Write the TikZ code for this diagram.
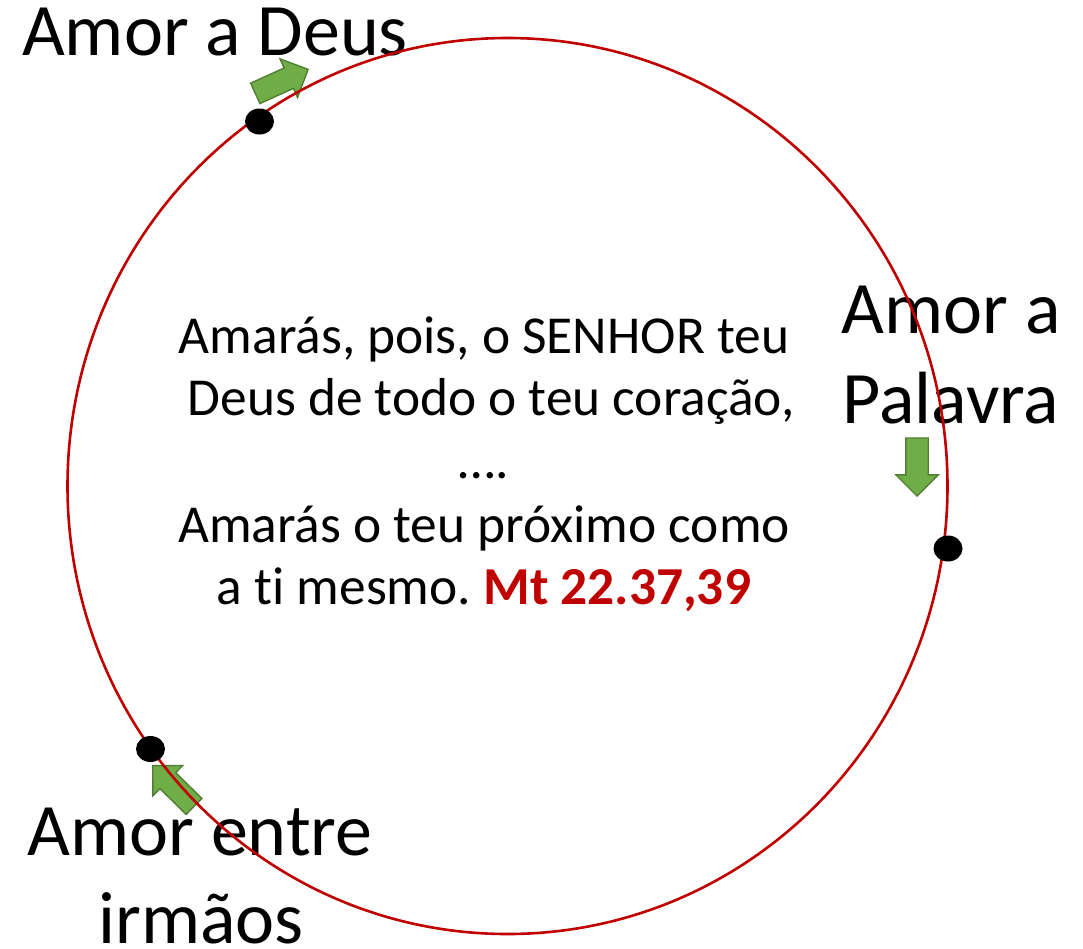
\documentclass[tikz,border=0pt]{standalone}
\usepackage{fontspec}
\setmainfont{Carlito}[Ligatures=NoCommon]
\usepackage{xcolor}
\usetikzlibrary{shapes.geometric, shapes.arrows}

\definecolor{ringred}{HTML}{C00000}
\definecolor{arrowfill}{HTML}{70AD47}
\definecolor{arrowline}{HTML}{507E32}

\tikzset{
  bigword/.style={font=\fontsize{74}{90}\selectfont, inner sep=0pt, anchor=base},
  verseline/.style={font=\fontsize{53.4}{63}\selectfont, inner sep=0pt, anchor=base},
  pointdot/.style={ellipse, fill=black, inner sep=0pt, minimum width=29pt, minimum height=26pt},
  greenarrow/.style={single arrow, draw=arrowline, fill=arrowfill, line width=1.4pt,
    inner sep=10.5pt, minimum height=58pt, single arrow head extend=10pt, anchor=tip},
}

\begin{document}
\begin{tikzpicture}[x=1pt, y=-1pt]
			\useasboundingbox (0,0) rectangle (1083,948);
			
			\node[greenarrow, rotate=24.4] (deusarrow) at (309,69) {};
			\node[greenarrow, rotate=-90] (palavraarrow) at (917,497) {};
			\node[greenarrow, rotate=135.4] (irmaosarrow) at (152,765) {};
			
			\node[bigword] (deus) at (215,55) {Amor a Deus};
			\node[bigword] (palavra1) at (951,333) {Amor a};
			\node[bigword] (palavra2) at (951,423) {Palavra};
			\node[bigword] (irmaos1) at (200,855) {Amor entre};
			\node[bigword] (irmaos2) at (201,943) {irmãos};
			
			\node[draw=ringred, line width=2.6pt, ellipse, inner sep=0pt,
				minimum width=880pt, minimum height=896pt] (ring) at (507.5,486) {};
			
			\node[pointdot] (deusdot) at (259.5,121.5) {};
			\node[pointdot] (palavradot) at (948,548.5) {};
			\node[pointdot] (irmaosdot) at (150.5,749) {};
			
			\node[verseline] (v1) at (484,353) {Amarás, pois, o SENHOR teu};
			\node[verseline] (v2) at (491,415) {Deus de todo o teu coração,};
			\node[verseline] (v3) at (484,478) {….};
			\node[verseline] (v4) at (484,542) {Amarás o teu próximo como};
			\node[verseline] (v5) at (484,604) {a ti mesmo.\ \textcolor{ringred}{\bfseries Mt 22.37,39}};
			
		\end{tikzpicture}
\end{document}
